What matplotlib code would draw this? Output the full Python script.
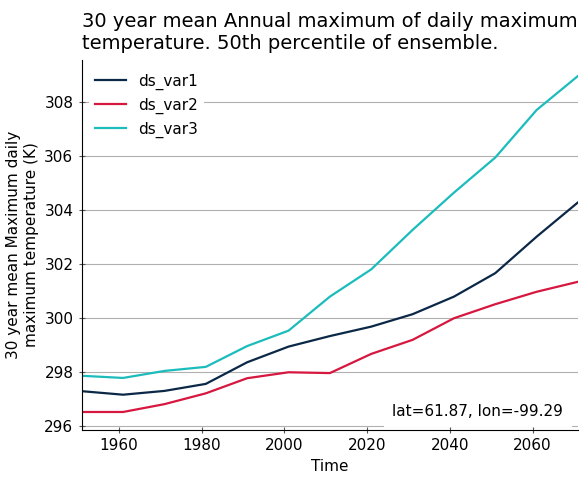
import matplotlib
matplotlib.use("Agg")
import matplotlib.pyplot as plt

years = [1951, 1961, 1971, 1981, 1991, 2001, 2011, 2021, 2031, 2041, 2051, 2061, 2071]
ds_var1 = [297.29, 297.16, 297.30, 297.56, 298.36, 298.94, 299.33, 299.68, 300.14, 300.79, 301.66, 303.01, 304.28]
ds_var2 = [296.52, 296.52, 296.81, 297.21, 297.77, 297.99, 297.96, 298.67, 299.19, 299.99, 300.51, 300.97, 301.34]
ds_var3 = [297.86, 297.78, 298.04, 298.19, 298.96, 299.53, 300.79, 301.80, 303.26, 304.64, 305.94, 307.70, 308.96]
names = ["ds_var1", "ds_var2", "ds_var3"]
colors = ["#0b2847", "#d6173f", "#1cbcbc"]

fig = plt.figure(figsize=(5.88, 4.8), dpi=100)
ax = fig.add_axes([0.139, 0.104, 0.844, 0.771])

for vals, name, c in zip([ds_var1, ds_var2, ds_var3], names, colors):
    ax.plot(years, vals, color=c, lw=1.6, label=name)

ax.set_xlim(1951, 2071)
ax.set_ylim(295.85, 309.55)
ax.set_yticks([296, 298, 300, 302, 304, 306, 308])
ax.set_xticks([1960, 1980, 2000, 2020, 2040, 2060])
ax.yaxis.grid(True, color="#b0b0b0", lw=0.8)
ax.set_axisbelow(True)
for s in ["top", "right"]:
    ax.spines[s].set_visible(False)
ax.tick_params(axis="both", direction="inout", length=5, width=0.8, color="#555555", labelsize=11)

ax.set_xlabel("Time", fontsize=11)
ax.set_ylabel("30 year mean Maximum daily\nmaximum temperature (K)", fontsize=11)
ax.set_title("30 year mean Annual maximum of daily maximum\ntemperature. 50th percentile of ensemble.",
             loc="left", fontsize=14, pad=8)

leg = ax.legend(loc="upper left", fontsize=11, frameon=True, borderaxespad=0.5)
leg.get_frame().set_edgecolor("none")
leg.get_frame().set_facecolor("white")
leg.get_frame().set_alpha(1)

ax.text(0.97, 0.03, "lat=61.87, lon=-99.29", transform=ax.transAxes, ha="right", va="bottom",
        fontsize=11, bbox=dict(facecolor="white", edgecolor="none", pad=6))

fig.savefig("out.png", dpi=100)
